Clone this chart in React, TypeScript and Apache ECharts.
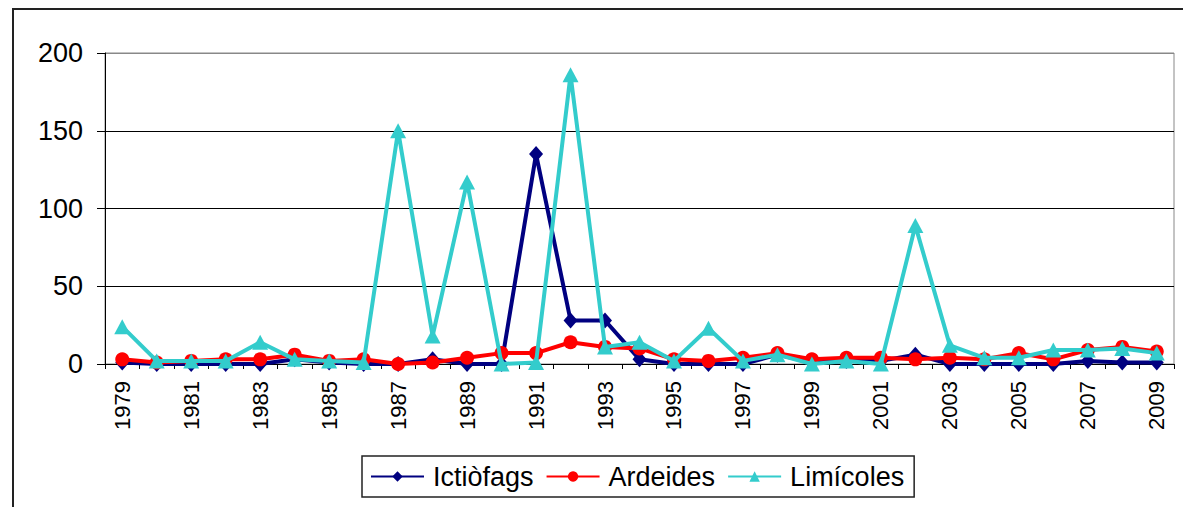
import React, { useEffect, useRef } from "react";
import * as echarts from "echarts";

const years = [
  "1979", "1980", "1981", "1982", "1983", "1984", "1985", "1986", "1987", "1988",
  "1989", "1990", "1991", "1992", "1993", "1994", "1995", "1996", "1997", "1998",
  "1999", "2000", "2001", "2002", "2003", "2004", "2005", "2006", "2007", "2008", "2009",
];
const ictiofags = [1, 0, 0, 0, 0, 3, 1, 0, 0, 3, 0, 0, 135, 28, 28, 3, 0, 0, 0, 6, 1, 2, 2, 6, 0, 0, 0, 0, 2, 1, 1];
const ardeides = [3, 1, 2, 3, 3, 6, 2, 3, 0, 1, 4, 7, 7, 14, 11, 10, 3, 2, 4, 7, 3, 4, 4, 3, 4, 3, 7, 3, 9, 11, 8];
const limicoles = [24, 2, 2, 2, 14, 3, 2, 1, 150, 18, 117, 0, 1, 186, 11, 14, 2, 23, 2, 6, 0, 2, 0, 89, 12, 4, 4, 9, 9, 10, 7];
const seriesNames = ["Ictiòfags", "Ardeides", "Limícoles"];

const FONT = "'Liberation Sans', Arial, sans-serif";

export default function App() {
  const ref = useRef<HTMLDivElement>(null);
  useEffect(() => {
    if (!ref.current) return;
    const chart = echarts.init(ref.current, undefined, { renderer: "svg" });
    chart.setOption({
      animation: false,
      backgroundColor: "#ffffff",
      textStyle: { fontFamily: FONT, color: "#000" },
      graphic: [
        {
          type: "rect",
          shape: { x: 13, y: 9, width: 1200, height: 600 },
          style: { fill: "none", stroke: "#222", lineWidth: 2 },
          silent: true,
          z: 0,
        },
      ],
      grid: {
        left: 105,
        right: 9,
        top: 53,
        bottom: 143,
        show: true,
        borderColor: "#888",
        borderWidth: 1,
        containLabel: false,
      },
      legend: {
        left: 362,
        top: 456,
        orient: "horizontal",
        data: seriesNames,
        borderColor: "#222",
        borderWidth: 1.5,
        borderRadius: 0,
        padding: [7, 10, 7, 8],
        itemGap: 12,
        itemWidth: 53,
        itemHeight: 13,
        textStyle: { fontSize: 27, fontFamily: FONT, color: "#000", padding: [0, 0, 0, 4] },
      },
      xAxis: {
        type: "category",
        data: years,
        boundaryGap: true,
        axisLine: { show: true, lineStyle: { color: "#000", width: 1 } },
        axisTick: { show: true, interval: 0, length: 5, lineStyle: { color: "#000" } },
        axisLabel: {
          interval: 1,
          rotate: 90,
          fontSize: 22,
          fontFamily: FONT,
          color: "#000",
          margin: 17,
        },
        splitLine: { show: false },
      },
      yAxis: {
        type: "value",
        min: 0,
        max: 200,
        interval: 50,
        axisLine: { show: true, lineStyle: { color: "#000", width: 1 } },
        axisTick: { show: true, length: 8, lineStyle: { color: "#000" } },
        axisLabel: { fontSize: 27, fontFamily: FONT, color: "#000", margin: 22 },
        splitLine: {
          show: true,
          lineStyle: { color: ["#000", "#000", "#000", "#000", "#888"], width: 1 },
        },
      },
      series: [
        {
          name: seriesNames[0],
          type: "line",
          data: ictiofags,
          symbol: "diamond",
          symbolSize: [14, 16],
          showAllSymbol: true,
          lineStyle: { color: "#000080", width: 4 },
          itemStyle: { color: "#000080" },
          z: 2,
        },
        {
          name: seriesNames[1],
          type: "line",
          data: ardeides,
          symbol: "circle",
          symbolSize: 14,
          showAllSymbol: true,
          lineStyle: { color: "#ff0000", width: 4 },
          itemStyle: { color: "#ff0000" },
          z: 3,
        },
        {
          name: seriesNames[2],
          type: "line",
          data: limicoles,
          symbol: "triangle",
          symbolSize: [16, 15],
          showAllSymbol: true,
          lineStyle: { color: "#33cccc", width: 4 },
          itemStyle: { color: "#33cccc" },
          z: 4,
        },
      ],
    });
    return () => chart.dispose();
  }, []);
  return (
    <div
      ref={ref}
      style={{ position: "fixed", left: 0, top: 0, width: 1183, height: 507 }}
    />
  );
}
